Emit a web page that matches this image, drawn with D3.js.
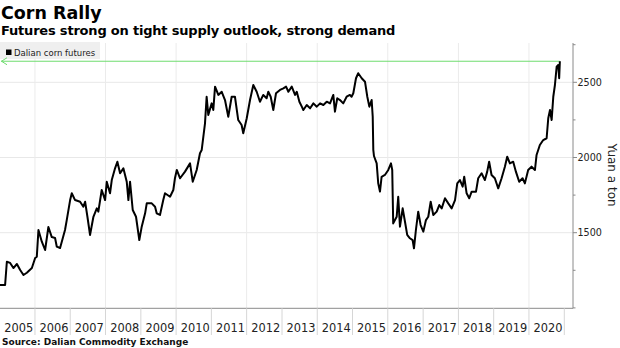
<!DOCTYPE html>
<html>
<head>
<meta charset="utf-8">
<script src="https://cdn.jsdelivr.net/npm/d3@7"></script>
<style>
  body { margin: 0; background: #fff; }
  svg { display: block; font-family: "DejaVu Sans", sans-serif; }
</style>
</head>
<body>
<div class="app"></div>
<script>
// Dalian corn futures, yuan a ton (one row per year)
var dates = [
  "2005-01-04","2005-02-26","2005-03-16","2005-04-19","2005-05-23","2005-06-28","2005-08-01","2005-09-04","2005-10-09","2005-11-30",
  "2006-01-03","2006-01-20","2006-02-06","2006-03-13","2006-04-16","2006-05-20","2006-06-24","2006-07-28","2006-08-15","2006-09-18","2006-10-22","2006-11-08","2006-11-26","2006-12-31",
  "2007-01-17","2007-02-20","2007-04-13","2007-05-17","2007-06-04","2007-06-28","2007-07-25","2007-08-29","2007-10-03","2007-10-19","2007-11-23","2007-12-28",
  "2008-01-14","2008-02-17","2008-03-06","2008-04-09","2008-05-03","2008-05-31","2008-07-04","2008-08-08","2008-08-25","2008-09-11","2008-10-09","2008-11-12","2008-12-16",
  "2009-01-10","2009-02-14","2009-03-03","2009-04-24","2009-05-28","2009-06-14","2009-07-18","2009-08-21","2009-09-08","2009-10-30","2009-12-03","2009-12-20",
  "2010-01-08","2010-02-11","2010-04-03","2010-05-25","2010-06-22","2010-08-02","2010-09-05","2010-09-23","2010-10-27","2010-11-13","2010-11-30",
  "2011-01-04","2011-01-21","2011-02-08","2011-03-14","2011-04-18","2011-05-22","2011-06-25","2011-07-30","2011-09-02","2011-10-06","2011-11-10","2011-11-27",
  "2012-01-02","2012-02-05","2012-03-10","2012-04-14","2012-05-18","2012-06-21","2012-07-26","2012-08-12","2012-09-06","2012-10-03","2012-10-31","2012-12-11",
  "2013-01-15","2013-02-12","2013-03-08","2013-04-12","2013-05-16","2013-06-03","2013-06-30","2013-07-25","2013-08-10","2013-09-14","2013-10-19","2013-11-22","2013-12-27",
  "2014-01-30","2014-03-05","2014-04-09","2014-05-13","2014-06-16","2014-07-03","2014-07-27","2014-08-24","2014-09-27","2014-11-01","2014-12-05","2014-12-22",
  "2015-01-09","2015-02-06","2015-03-01","2015-04-06","2015-05-10","2015-06-03","2015-06-24","2015-07-18","2015-07-29","2015-08-04","2015-08-11","2015-09-08","2015-09-24","2015-10-12","2015-10-29","2015-12-02",
  "2016-01-06","2016-02-03","2016-02-16","2016-02-26","2016-04-02","2016-04-18","2016-05-06","2016-06-03","2016-06-27","2016-07-20","2016-08-17","2016-09-14","2016-09-28","2016-10-18","2016-11-11","2016-12-06",
  "2017-01-03","2017-01-30","2017-02-23","2017-03-20","2017-04-16","2017-05-21","2017-06-17","2017-07-12","2017-08-15","2017-09-18","2017-10-23","2017-11-27","2017-12-20",
  "2018-01-17","2018-02-14","2018-03-02","2018-03-27","2018-04-23","2018-05-18","2018-07-02","2018-07-25","2018-08-29","2018-10-02","2018-10-26","2018-11-15","2018-12-10",
  "2019-01-13","2019-02-17","2019-03-24","2019-04-27","2019-05-21","2019-06-18","2019-07-22","2019-08-19","2019-09-22","2019-10-27","2019-11-20","2019-12-24",
  "2020-01-28","2020-03-03","2020-03-20","2020-04-23","2020-05-28","2020-07-02","2020-07-19","2020-08-06","2020-08-23","2020-09-09","2020-09-26","2020-10-14","2020-10-30","2020-11-09","2020-11-16"
];

var prices = [
  1152,1152,1307,1299,1265,1292,1252,1219,1234,1265,
  1332,1340,1518,1440,1385,1538,1471,1465,1407,1398,1478,1518,1584,1717,
  1762,1717,1706,1673,1706,1606,1485,1606,1662,1640,1784,1717,
  1839,1762,1850,1928,1972,1895,1928,1839,1717,1839,1651,1606,1451,
  1540,1629,1695,1695,1673,1629,1618,1717,1762,1739,1784,1862,
  1917,1862,1906,1961,1839,1917,2028,2050,2227,2404,2283,
  2360,2316,2471,2416,2437,2382,2271,2404,2404,2249,2216,2161,
  2261,2382,2482,2437,2371,2416,2394,2437,2404,2316,2427,2449,
  2460,2471,2437,2471,2416,2437,2371,2338,2316,2349,2327,2360,2338,
  2360,2349,2371,2360,2416,2305,2394,2382,2360,2404,2416,2404,
  2427,2527,2560,2527,2504,2404,2338,2382,2271,2050,2010,1961,1828,1773,1872,1884,
  1917,1961,1917,1562,1606,1739,1540,1662,1573,1485,1463,1451,1396,1518,1640,1551,
  1507,1584,1606,1706,1618,1640,1684,1662,1729,1695,1662,1717,1828,
  1850,1806,1872,1762,1729,1773,1773,1862,1895,1850,1906,1972,1884,
  1862,1795,1862,1939,2005,1961,1972,1906,1839,1862,1828,1917,
  1939,1917,2017,2083,2116,2128,2261,2316,2249,2404,2482,2604,2615,2527,2640
];

var years = d3.range(2005, 2021);
var yTicks = [1500, 2000, 2500];
var yMinor = [1000, 1250, 1750, 2250, 2750];

var W = 620, H = 348;
var plot = {left: 0, right: 573, top: 43, bottom: 308.3};

var parse = d3.timeParse("%Y-%m-%d");
var data = dates.map(function(d, i){ return {date: parse(d), value: prices[i]}; });

var svg = d3.select(".app").append("svg")
    .attr("width", W)
    .attr("height", H);

var x = d3.scaleTime()
    .domain([new Date(2005, 0, 1), new Date(2021, 0, 1)])
    .range([-0.3, 564.3]);

var y = d3.scaleLinear()
    .domain([1000, 2760])
    .range([307.9, 43.2]);

// titles
svg.append("text")
    .attr("x", 1).attr("y", 19)
    .style("font-weight", "bold").style("font-size", "17.5px")
    .text("Corn Rally");

svg.append("text")
    .attr("x", 1).attr("y", 35)
    .style("font-weight", "bold").style("font-size", "13px")
    .style("letter-spacing", "-0.2px")
    .text("Futures strong on tight supply outlook, strong demand");

// grid
var grid = svg.append("g").attr("class", "grid");

grid.selectAll(".hgrid")
    .data(yTicks)
    .enter().append("line")
    .attr("x1", plot.left).attr("x2", plot.right)
    .attr("y1", function(d){ return y(d); })
    .attr("y2", function(d){ return y(d); })
    .attr("stroke", "#e8e8e8").attr("stroke-width", 1);

grid.selectAll(".vgrid")
    .data(years.filter(function(d){ return d % 2 === 0; }))
    .enter().append("line")
    .attr("x1", function(d){ return x(new Date(d, 0, 1)); })
    .attr("x2", function(d){ return x(new Date(d, 0, 1)); })
    .attr("y1", plot.top).attr("y2", plot.bottom)
    .attr("stroke", "#ebebeb").attr("stroke-width", 1);

// legend
var legend = svg.append("g").attr("class", "legend");
legend.append("rect")
    .attr("x", 0).attr("y", 42).attr("width", 100).attr("height", 17)
    .attr("fill", "#efefef");
legend.append("rect")
    .attr("x", 6).attr("y", 49.5).attr("width", 5.5).attr("height", 5.5)
    .attr("fill", "#000");
legend.append("text")
    .attr("x", 14).attr("y", 55.5)
    .style("font-size", "8.5px")
    .attr("fill", "#222")
    .text("Dalian corn futures");

// latest price marker
var last = data[data.length - 1];
svg.append("line")
    .attr("x1", 1).attr("x2", x(last.date))
    .attr("y1", y(last.value)).attr("y2", y(last.value))
    .attr("stroke", "#6fdc6f").attr("stroke-width", 1);
svg.append("path")
    .attr("d", "M" + 7 + "," + (y(last.value) - 3.5) + "L" + 1.5 + "," + y(last.value) + "L" + 7 + "," + (y(last.value) + 3.5))
    .attr("fill", "none")
    .attr("stroke", "#6fdc6f").attr("stroke-width", 1);

// price line
var lineFunction = d3.line()
    .x(function(d){ return x(d.date); })
    .y(function(d){ return y(d.value); });

svg.append("path")
    .datum(data)
    .attr("d", lineFunction)
    .attr("fill", "none")
    .attr("stroke", "#000")
    .attr("stroke-width", 2)
    .attr("stroke-linejoin", "round");

// bottom axis: baseline, year separators and labels
var xAxis = svg.append("g").attr("class", "axis axis--x");
xAxis.append("line")
    .attr("x1", 0).attr("x2", plot.right)
    .attr("y1", plot.bottom).attr("y2", plot.bottom)
    .attr("stroke", "#8a8a8a").attr("stroke-width", 1);

xAxis.selectAll(".sep")
    .data(years.slice(1).concat([2021]))
    .enter().append("line")
    .attr("x1", function(d){ return x(new Date(d, 0, 1)); })
    .attr("x2", function(d){ return x(new Date(d, 0, 1)); })
    .attr("y1", plot.bottom).attr("y2", 335)
    .attr("stroke", "#d6d6d6").attr("stroke-width", 1);

xAxis.selectAll(".lbl")
    .data(years)
    .enter().append("text")
    .attr("x", function(d){ return x(new Date(d, 6, 2)) + 1.5; })
    .attr("y", 332)
    .attr("text-anchor", "middle")
    .style("font-size", "11.4px")
    .attr("fill", "#222")
    .text(function(d){ return d; });

// right axis
var yAxis = svg.append("g").attr("class", "axis axis--y");
yAxis.append("line")
    .attr("x1", plot.right).attr("x2", plot.right)
    .attr("y1", plot.top).attr("y2", plot.bottom)
    .attr("stroke", "#8a8a8a").attr("stroke-width", 1);

yAxis.selectAll(".major")
    .data(yTicks)
    .enter().append("line")
    .attr("x1", plot.right).attr("x2", plot.right + 4)
    .attr("y1", function(d){ return y(d); })
    .attr("y2", function(d){ return y(d); })
    .attr("stroke", "#8a8a8a");

yAxis.selectAll(".minor")
    .data(yMinor)
    .enter().append("line")
    .attr("x1", plot.right).attr("x2", plot.right + 2.5)
    .attr("y1", function(d){ return y(d); })
    .attr("y2", function(d){ return y(d); })
    .attr("stroke", "#8a8a8a");

yAxis.selectAll(".tlbl")
    .data(yTicks)
    .enter().append("text")
    .attr("x", 577.5)
    .attr("y", function(d){ return y(d) + 3.5; })
    .style("font-size", "9.6px")
    .attr("fill", "#222")
    .text(function(d){ return d; });

svg.append("text")
    .attr("transform", "translate(608," + 175 + ") rotate(90)")
    .attr("text-anchor", "middle")
    .style("font-size", "12px")
    .attr("fill", "#222")
    .text("Yuan a ton");

// source
svg.append("text")
    .attr("x", 2).attr("y", 345)
    .style("font-weight", "bold").style("font-size", "9px")
    .attr("fill", "#111")
    .text("Source: Dalian Commodity Exchange");
</script>
</body>
</html>
